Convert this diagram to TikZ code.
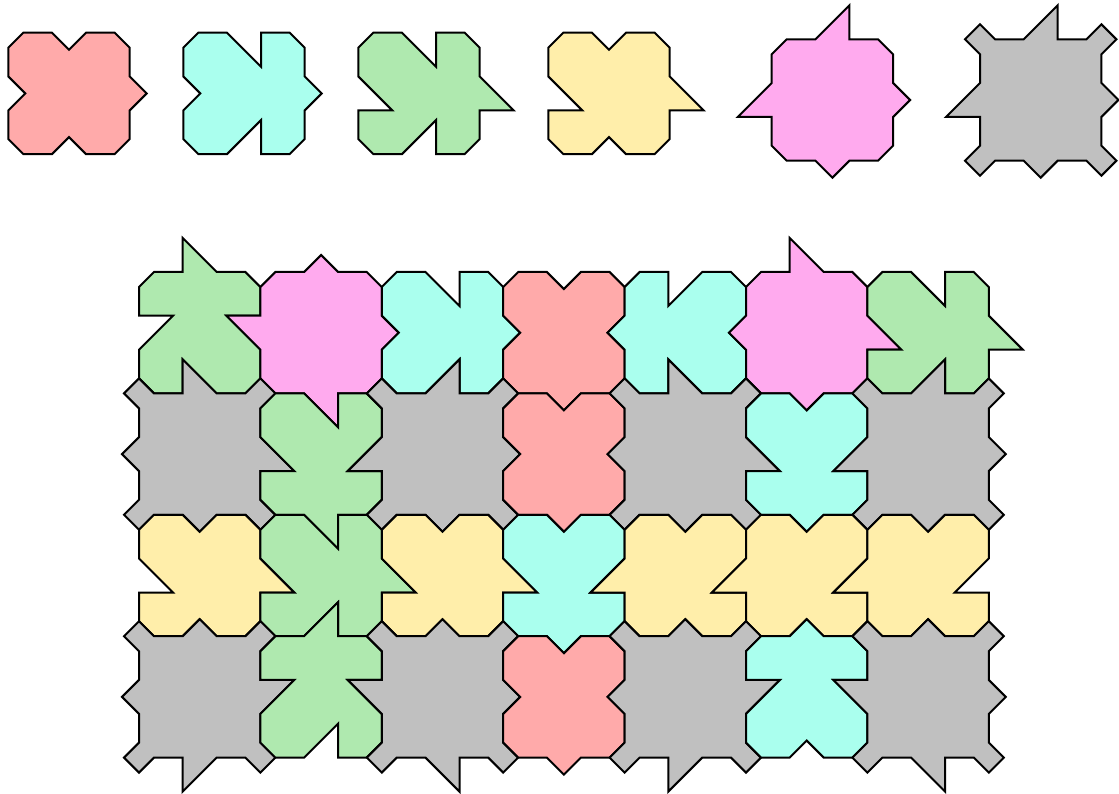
\documentclass[tikz,border=0pt]{standalone}
\usepackage{tikz}
\definecolor{cred}{HTML}{FFAAAA}
\definecolor{ccyan}{HTML}{AAFFEE}
\definecolor{cgreen}{HTML}{AFE9AF}
\definecolor{cyellow}{HTML}{FFEEAA}
\definecolor{cmag}{HTML}{FFAAEE}
\definecolor{cgray}{HTML}{C0C0C0}
\pgfmathsetmacro\cS{121.4}
\pgfmathsetmacro\cC{15}
\pgfmathsetmacro\cH{17}
\pgfmathsetmacro\cHH{34}
\pgfmathsetmacro\cM{\cS/2}
\pgfmathsetmacro\cA{\cS/2-\cH}
\pgfmathsetmacro\cB{\cS/2+\cH}
\pgfmathsetmacro\cSC{\cS-\cC}
% side frames: #1 = position along the side, #2 = outward offset
\newcommand\sT[2]{({#1},{-(#2)})}
\newcommand\sR[2]{({\cS+(#2)},{#1})}
\newcommand\sB[2]{({\cS-(#1)},{\cS+(#2)})}
\newcommand\sL[2]{({-(#2)},{\cS-(#1)})}
% edge features
\newcommand\Vi[1]{-- #1{\cA}{0} -- #1{\cM}{-\cH} -- #1{\cB}{0}}
\newcommand\Vo[1]{-- #1{\cA}{0} -- #1{\cM}{\cH} -- #1{\cB}{0}}
\newcommand\TiA[1]{-- #1{\cA}{0} -- #1{\cA}{-\cHH} -- #1{\cB}{0}}
\newcommand\TiB[1]{-- #1{\cA}{0} -- #1{\cB}{-\cHH} -- #1{\cB}{0}}
\newcommand\ToA[1]{-- #1{\cA}{0} -- #1{\cA}{\cHH} -- #1{\cB}{0}}
\newcommand\ToB[1]{-- #1{\cA}{0} -- #1{\cB}{\cHH} -- #1{\cB}{0}}
% corners: C = chamfer, E = ear
\newcommand\TRC{-- (\cS,\cC)}
\newcommand\BRC{-- (\cSC,\cS)}
\newcommand\BLC{-- (0,\cSC)}
\newcommand\TLC{}
\newcommand\TRE{-- (\cS,-\cC) -- ({\cS+\cC},0) -- (\cS,\cC)}
\newcommand\BRE{-- ({\cS+\cC},\cS) -- (\cS,{\cS+\cC}) -- (\cSC,\cS)}
\newcommand\BLE{-- (0,{\cS+\cC}) -- (-\cC,\cS) -- (0,\cSC)}
\newcommand\TLE{-- (-\cC,0) -- (0,-\cC)}
\newcommand\tile[8]{%
  \edef\tmpcmd{\noexpand\draw[tileline,fill=#3,shift={(#1,#2)}]
    (\cC,0) #4\sT -- (\cSC,0) \csname TR#8\endcsname
    #5\sR -- (\cS,\cSC) \csname BR#8\endcsname
    #6\sB -- (\cC,\cS) \csname BL#8\endcsname
    #7\sL -- (0,\cC) \csname TL#8\endcsname -- cycle;}%
  \tmpcmd}
\tikzset{tileline/.style={draw=black,line width=2pt,line join=miter}}
\begin{document}
\begin{tikzpicture}[x=1pt,y=-1pt]
\useasboundingbox (0,0) rectangle (1119,794);
% prototiles
\tile{8.3}{32.7}{cred}{\Vi}{\Vo}{\Vi}{\Vi}{C}
\tile{183.3}{32.7}{ccyan}{\TiB}{\Vo}{\TiA}{\Vi}{C}
\tile{358.3}{32.7}{cgreen}{\TiB}{\ToB}{\TiA}{\TiA}{C}
\tile{548.3}{32.7}{cyellow}{\Vi}{\ToB}{\Vi}{\TiA}{C}
\tile{771.7}{39.3}{cmag}{\ToB}{\Vo}{\Vo}{\ToA}{C}
\tile{980}{39.3}{cgray}{\ToB}{\Vo}{\Vo}{\ToA}{E}
% tiling, row 0
\tile{139}{272}{cgreen}{\ToA}{\TiA}{\TiB}{\TiB}{C}
\tile{260.4}{272}{cmag}{\Vo}{\Vo}{\ToA}{\ToB}{C}
\tile{381.8}{272}{ccyan}{\TiB}{\Vo}{\TiA}{\Vi}{C}
\tile{503.2}{272}{cred}{\Vi}{\Vi}{\Vo}{\Vi}{C}
\tile{624.6}{272}{ccyan}{\TiA}{\Vi}{\TiB}{\Vo}{C}
\tile{746}{272}{cmag}{\ToA}{\ToB}{\Vo}{\Vo}{C}
\tile{867.4}{272}{cgreen}{\TiB}{\ToB}{\TiA}{\TiA}{C}
% row 1
\tile{139}{393.4}{cgray}{\ToA}{\ToB}{\Vo}{\Vo}{E}
\tile{260.4}{393.4}{cgreen}{\TiB}{\TiB}{\ToA}{\TiA}{C}
\tile{381.8}{393.4}{cgray}{\ToB}{\Vo}{\Vo}{\ToA}{E}
\tile{503.2}{393.4}{cred}{\Vi}{\Vi}{\Vo}{\Vi}{C}
\tile{624.6}{393.4}{cgray}{\ToA}{\ToB}{\Vo}{\Vo}{E}
\tile{746}{393.4}{ccyan}{\Vi}{\TiB}{\Vo}{\TiA}{C}
\tile{867.4}{393.4}{cgray}{\ToB}{\Vo}{\Vo}{\ToA}{E}
% row 2
\tile{139}{514.8}{cyellow}{\Vi}{\ToB}{\Vi}{\TiA}{C}
\tile{260.4}{514.8}{cgreen}{\TiB}{\ToB}{\TiA}{\TiA}{C}
\tile{381.8}{514.8}{cyellow}{\Vi}{\ToB}{\Vi}{\TiA}{C}
\tile{503.2}{514.8}{ccyan}{\Vi}{\TiB}{\Vo}{\TiA}{C}
\tile{624.6}{514.8}{cyellow}{\Vi}{\TiB}{\Vi}{\ToA}{C}
\tile{746}{514.8}{cyellow}{\Vi}{\TiB}{\Vi}{\ToA}{C}
\tile{867.4}{514.8}{cyellow}{\Vi}{\TiB}{\Vi}{\ToA}{C}
% row 3
\tile{139}{636.2}{cgray}{\Vo}{\ToA}{\ToB}{\Vo}{E}
\tile{260.4}{636.2}{cgreen}{\ToB}{\TiA}{\TiA}{\TiB}{C}
\tile{381.8}{636.2}{cgray}{\Vo}{\Vo}{\ToA}{\ToB}{E}
\tile{503.2}{636.2}{cred}{\Vi}{\Vi}{\Vo}{\Vi}{C}
\tile{624.6}{636.2}{cgray}{\Vo}{\ToA}{\ToB}{\Vo}{E}
\tile{746}{636.2}{ccyan}{\Vo}{\TiA}{\Vi}{\TiB}{C}
\tile{867.4}{636.2}{cgray}{\Vo}{\Vo}{\ToA}{\ToB}{E}
\end{tikzpicture}
\end{document}
